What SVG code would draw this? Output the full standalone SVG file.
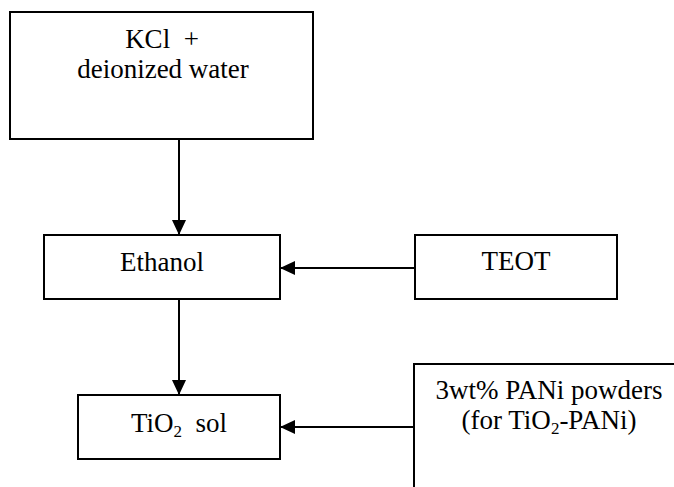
<svg xmlns="http://www.w3.org/2000/svg" width="674" height="487" viewBox="0 0 674 487">
<style>
.box{fill:#fff;stroke:#000;stroke-width:2}
.t{font-family:'Liberation Serif','Times New Roman',serif;font-size:27px;fill:#000;text-anchor:middle}
.sub{font-size:17px}
.c{stroke:#000;stroke-width:2;fill:none;marker-end:url(#ah)}
</style>
<defs>
<marker id="ah" markerUnits="userSpaceOnUse" markerWidth="16" markerHeight="14" refX="15" refY="7" orient="auto">
<path d="M0,0 L15,7 L0,14 Z" fill="#000"/>
</marker>
</defs>
<rect width="674" height="487" fill="#fff"/>
<g id="kcl">
<rect class="box" x="10" y="12" width="303" height="127"/>
<text class="t" x="162" y="48" xml:space="preserve">KCl  +</text>
<text class="t" x="163" y="78">deionized water</text>
</g>
<g id="ethanol">
<rect class="box" x="44" y="235" width="236" height="64"/>
<text class="t" x="162" y="271">Ethanol</text>
</g>
<g id="teot">
<rect class="box" x="415" y="235" width="202" height="64"/>
<text class="t" x="516" y="270">TEOT</text>
</g>
<g id="tio2">
<rect class="box" x="78" y="395" width="202" height="64"/>
<text class="t" x="179" y="432" xml:space="preserve">TiO<tspan class="sub" dy="5">2</tspan><tspan dy="-5">  sol</tspan></text>
</g>
<g id="pani">
<rect class="box" x="414" y="364" width="270" height="140"/>
<text class="t" x="549" y="399">3wt% PANi powders</text>
<text class="t" x="549" y="429">(for TiO<tspan class="sub" dy="5">2</tspan><tspan dy="-5">-PANi)</tspan></text>
</g>
<g id="connectors">
<line class="c" x1="179" y1="139" x2="179" y2="235"/>
<line class="c" x1="179" y1="299" x2="179" y2="395"/>
<line class="c" x1="415" y1="268" x2="280" y2="268"/>
<line class="c" x1="414" y1="427" x2="280" y2="427"/>
</g>
</svg>
